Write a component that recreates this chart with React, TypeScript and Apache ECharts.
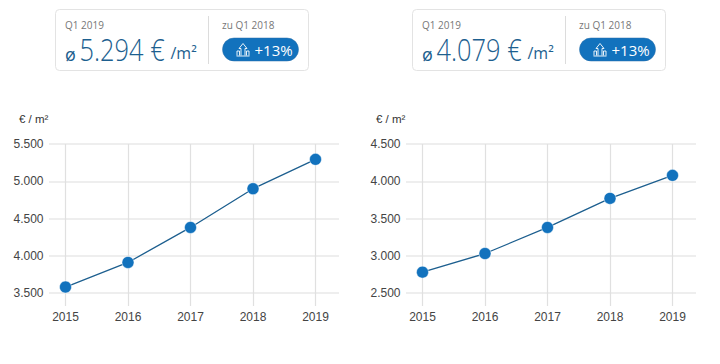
import React, { useEffect, useRef } from "react";
import * as echarts from "echarts";

const years = ["2015", "2016", "2017", "2018", "2019"];
const leftValues = [3580, 3910, 4380, 4900, 5294];
const rightValues = [2780, 3030, 3380, 3770, 4079];
const leftRange = [3500, 5500];
const rightRange = [2500, 4500];
const unitLabel = "€ / m²";
const cards = [
  { x: 55.5, w: 253, price: "5.294 €", period: "Q1 2019", compare: "zu Q1 2018", change: "+13%" },
  { x: 412.5, w: 253, price: "4.079 €", period: "Q1 2019", compare: "zu Q1 2018", change: "+13%" },
];

const BLUE = "#1272bd";
const INK = "#1d5f8f";
const SANS = "'Open Sans', sans-serif";
const ARIAL = "'Liberation Sans', Arial, sans-serif";

const iconPath =
  "M0.5 12.5 V8 H3 V12.5 M4.5 12.5 V5.5 H2.5 L6.5 0.5 L10.5 5.5 H8.5 V12.5 M10 12.5 V8 H12.5 V12.5 M0 13 H13";
echarts.graphic.registerShape("upIcon", echarts.graphic.extendPath(iconPath, {}));

function card(c: (typeof cards)[number]) {
  const t = (x: number, y: number, text: string, fontSize: number, fill: string, fontWeight: any = 400, scaleX = 1) => ({
    type: "text",
    x: c.x + x,
    y,
    scaleX,
    style: { text, fontSize, fill, fontWeight, fontFamily: SANS, textVerticalAlign: "middle" },
  });
  return [
    { type: "rect", shape: { x: c.x, y: 9.5, width: c.w, height: 61, r: 4 }, style: { fill: "#fff", stroke: "#e3e3e3", lineWidth: 1 } },
    { type: "line", shape: { x1: c.x + 153, y1: 16, x2: c.x + 153, y2: 64 }, style: { stroke: "#dcdcdc", lineWidth: 1 } },
    t(9.5, 24.5, c.period, 10, "#777"),
    t(9.5, 53.5, "ø", 18, INK),
    t(24, 49, c.price, 31, INK, 300, 0.82),
    t(115, 53, "/m²", 16, INK),
    t(166.5, 24.5, c.compare, 10, "#777"),
    { type: "rect", shape: { x: c.x + 167, y: 38, width: 76, height: 23, r: 11.5 }, style: { fill: BLUE, stroke: "#2a6fa8", lineWidth: 0.5 } },
    { type: "upIcon", x: c.x + 181, y: 43, style: { fill: "none", stroke: "#fff", lineWidth: 0.9 } },
    t(199, 50, c.change, 15, "#fff"),
  ];
}

function axes(left: number, gridIndex: number, range: number[]) {
  return {
    x: {
      type: "category", gridIndex, data: years, boundaryGap: false,
      axisLine: { show: false },
      axisTick: { show: true, length: 13, lineStyle: { color: "#e0e0e0", width: 1.2 } },
      axisLabel: { color: "#444", fontSize: 12, fontFamily: ARIAL, margin: 18 },
      splitLine: { show: true, lineStyle: { color: "#e0e0e0", width: 1.2 } },
    },
    y: {
      type: "value", gridIndex, min: range[0], max: range[1], interval: 500,
      axisLine: { show: false }, axisTick: { show: false },
      axisLabel: {
        color: "#444", fontSize: 12, fontFamily: ARIAL, margin: 22,
        formatter: (v: number) => v.toLocaleString("de-DE"),
      },
      splitLine: { show: false },
    },
    yLines: {
      type: "value", gridIndex: gridIndex + 2, min: range[0], max: range[1], interval: 500,
      axisLine: { show: false }, axisTick: { show: false }, axisLabel: { show: false },
      splitLine: { show: true, lineStyle: { color: "#e8e8e8", width: 1.5 } },
    },
    xLines: { type: "category", gridIndex: gridIndex + 2, data: years, show: false },
    grid: { left, top: 144, width: 250, height: 149 },
    gridLines: { left: left - 16.5, top: 144, width: 290, height: 149 },
  };
}

function series(xAxisIndex: number, yAxisIndex: number, data: number[]) {
  return {
    type: "line", xAxisIndex, yAxisIndex, data, symbol: "circle", symbolSize: 12,
    lineStyle: { color: INK, width: 1.3 }, itemStyle: { color: BLUE, borderColor: "#fff", borderWidth: 0.5 },
    z: 5,
  };
}

export default function App() {
  const ref = useRef<HTMLDivElement>(null);
  useEffect(() => {
    document.body.style.margin = "0";
    const chart = echarts.init(ref.current!, null, { renderer: "svg" });
    const a = axes(65.5, 0, leftRange);
    const b = axes(422.5, 1, rightRange);
    chart.setOption({
      animation: false,
      backgroundColor: "#fff",
      grid: [a.grid, b.grid, a.gridLines, b.gridLines],
      xAxis: [a.x, b.x, a.xLines, b.xLines],
      yAxis: [a.y, b.y, a.yLines, b.yLines],
      series: [series(0, 0, leftValues), series(1, 1, rightValues)],
      graphic: [
        ...card(cards[0]),
        ...card(cards[1]),
        { type: "text", x: 19, y: 119, style: { text: unitLabel, fontSize: 11.5, fontWeight: 500, fill: "#333", fontFamily: ARIAL, textVerticalAlign: "middle" } },
        { type: "text", x: 376, y: 119, style: { text: unitLabel, fontSize: 11.5, fontWeight: 500, fill: "#333", fontFamily: ARIAL, textVerticalAlign: "middle" } },
      ],
    });
    return () => chart.dispose();
  }, []);
  return <div ref={ref} style={{ position: "fixed", left: 0, top: 0, width: 720, height: 364 }} />;
}
